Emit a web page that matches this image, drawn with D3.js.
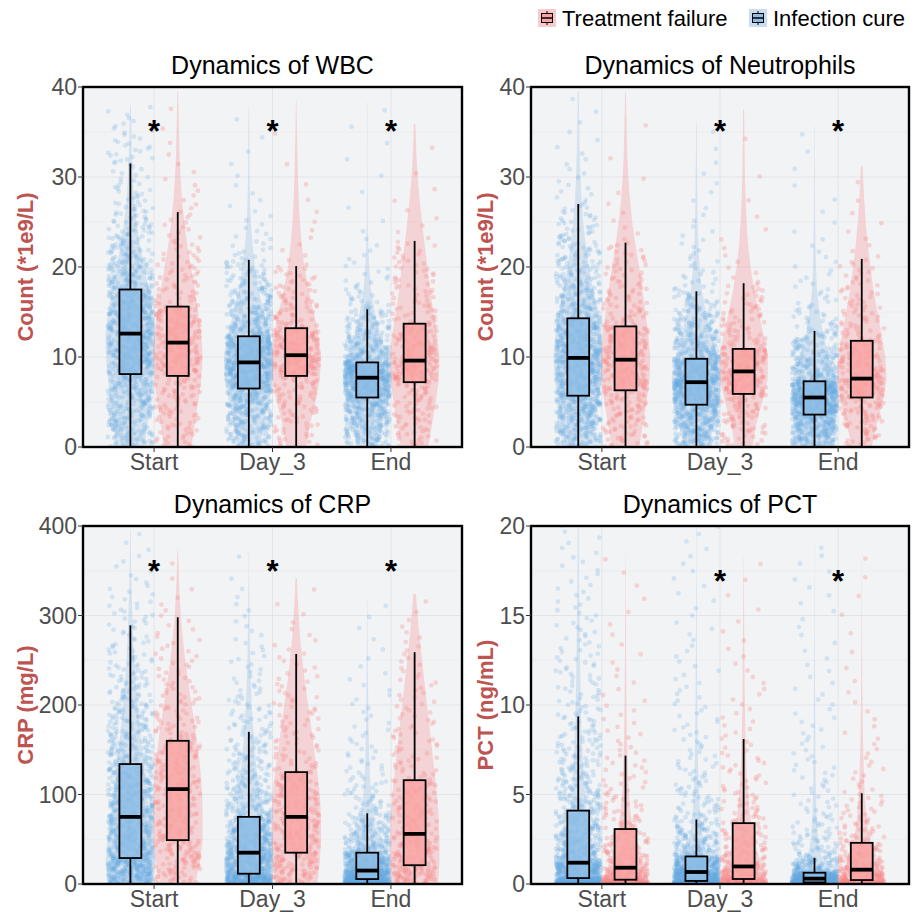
<!DOCTYPE html>
<html>
<head>
<meta charset="utf-8">
<script src="https://cdn.jsdelivr.net/npm/d3@7"></script>
<style>
  body { margin: 0; background: #fff; }
  text { font-family: "Liberation Sans", Arial, sans-serif; }
</style>
</head>
<body>
<script>
// categories
const groups = ["Start", "Day_3", "End"];
const legendLabels = ["Treatment failure", "Infection cure"];

// box stats per time point: [lower whisker, Q1, median, Q3, upper whisker]
// WBC
const wbcTicks = [0, 10, 20, 30, 40];
const wbcLevels = [0, 2.5, 5, 7.5, 10, 12.5, 15, 17.5, 20, 22.5, 25, 27.5, 30, 32.5, 35, 37.5, 40];
const wbcCureBox = [[0, 8.1, 12.6, 17.5, 31.5], [0, 6.5, 9.4, 12.3, 20.8], [0, 5.5, 7.7, 9.4, 15.3]];
const wbcFailBox = [[0, 7.9, 11.6, 15.6, 26.1], [0, 7.9, 10.2, 13.2, 20.1], [0, 7.2, 9.6, 13.7, 22.9]];
const wbcCureMax = [38.0, 37.6, 38.3];
const wbcFailMax = [39.5, 38.5, 35.9];
const wbcCureTail = [0.03, 0.03, 0.05];
const wbcFailTail = [0.04, 0.04, 0.03];
const wbcCureShape = [
  [0.55, 0.7, 0.8, 0.9, 0.98, 1.0, 0.9, 0.75, 0.55, 0.38, 0.25, 0.15, 0.1, 0.06, 0.04, 0.02, 0.01],
  [0.45, 0.6, 0.8, 0.97, 1.0, 0.85, 0.6, 0.4, 0.25, 0.15, 0.08, 0.05, 0.03, 0.025, 0.02, 0.01, 0],
  [0.4, 0.6, 0.85, 1.0, 0.85, 0.5, 0.3, 0.15, 0.08, 0.04, 0.02, 0.015, 0.01, 0.01, 0.01, 0.01, 0]
];
const wbcFailShape = [
  [0.55, 0.68, 0.82, 0.95, 1.0, 0.95, 0.82, 0.68, 0.53, 0.38, 0.26, 0.17, 0.11, 0.07, 0.05, 0.03, 0.01],
  [0.4, 0.55, 0.78, 0.95, 1.0, 0.9, 0.7, 0.5, 0.33, 0.22, 0.15, 0.1, 0.07, 0.05, 0.03, 0.015, 0],
  [0.55, 0.7, 0.85, 0.97, 1.0, 0.9, 0.75, 0.62, 0.52, 0.4, 0.3, 0.2, 0.12, 0.07, 0.04, 0.01, 0]
];
const wbcSig = ["*", "*", "*"];

// Neutrophils
const neutTicks = [0, 10, 20, 30, 40];
const neutLevels = [0, 2.5, 5, 7.5, 10, 12.5, 15, 17.5, 20, 22.5, 25, 27.5, 30, 32.5, 35, 37.5, 40];
const neutCureBox = [[0, 5.7, 9.9, 14.3, 27.0], [0, 4.7, 7.2, 9.8, 17.3], [0, 3.6, 5.5, 7.3, 12.9]];
const neutFailBox = [[0, 6.3, 9.7, 13.4, 22.7], [0, 5.9, 8.4, 10.9, 18.2], [0, 5.5, 7.6, 11.8, 20.9]];
const neutCureMax = [39.5, 36.1, 35.7];
const neutFailMax = [39.4, 37.5, 31.2];
const neutCureTail = [0.02, 0.04, 0.06];
const neutFailTail = [0.03, 0.04, 0.03];
const neutCureShape = [
  [0.5, 0.65, 0.8, 0.95, 1.0, 0.92, 0.78, 0.6, 0.43, 0.3, 0.2, 0.13, 0.09, 0.06, 0.04, 0.03, 0.02],
  [0.5, 0.72, 0.92, 1.0, 0.85, 0.6, 0.38, 0.22, 0.13, 0.08, 0.05, 0.035, 0.03, 0.02, 0.015, 0, 0],
  [0.55, 0.82, 1.0, 0.88, 0.6, 0.35, 0.2, 0.1, 0.06, 0.04, 0.025, 0.02, 0.015, 0.01, 0.01, 0, 0]
];
const neutFailShape = [
  [0.55, 0.7, 0.85, 0.97, 1.0, 0.92, 0.8, 0.68, 0.55, 0.4, 0.27, 0.18, 0.11, 0.07, 0.05, 0.03, 0.01],
  [0.35, 0.5, 0.75, 0.97, 0.98, 0.8, 0.6, 0.42, 0.28, 0.18, 0.12, 0.08, 0.05, 0.04, 0.03, 0.02, 0],
  [0.4, 0.6, 0.85, 1.0, 0.95, 0.8, 0.63, 0.47, 0.35, 0.24, 0.16, 0.1, 0.05, 0.02, 0, 0, 0]
];
const neutSig = ["", "*", "*"];

// CRP
const crpTicks = [0, 100, 200, 300, 400];
const crpLevels = [0, 25, 50, 75, 100, 125, 150, 175, 200, 225, 250, 275, 300, 325, 350, 375, 400];
const crpCureBox = [[0, 29, 75, 134, 289], [0, 11.5, 35, 75, 170], [0, 5.5, 15, 35, 79]];
const crpFailBox = [[0, 49, 106, 160, 298], [0, 35, 75, 125, 257], [0, 21, 56, 116, 259]];
const crpCureMax = [396, 372, 317];
const crpFailMax = [374, 342, 324];
const crpCureTail = [0.03, 0.07, 0.09];
const crpFailTail = [0.02, 0.03, 0.03];
const crpCureShape = [
  [0.9, 1.0, 0.92, 0.8, 0.68, 0.57, 0.47, 0.38, 0.3, 0.22, 0.16, 0.11, 0.08, 0.05, 0.03, 0.02, 0.01],
  [0.9, 1.0, 0.78, 0.58, 0.43, 0.32, 0.24, 0.17, 0.12, 0.08, 0.06, 0.04, 0.03, 0.02, 0.01, 0.005, 0],
  [1.0, 0.78, 0.42, 0.26, 0.16, 0.1, 0.07, 0.05, 0.04, 0.03, 0.02, 0.015, 0.01, 0.005, 0, 0, 0]
];
const crpFailShape = [
  [0.7, 0.9, 1.0, 1.0, 0.98, 0.92, 0.82, 0.7, 0.56, 0.42, 0.3, 0.2, 0.12, 0.07, 0.04, 0.01, 0],
  [0.85, 0.95, 1.0, 1.0, 0.95, 0.85, 0.72, 0.6, 0.48, 0.35, 0.25, 0.16, 0.1, 0.05, 0.02, 0, 0],
  [0.95, 1.0, 1.0, 0.97, 0.9, 0.8, 0.7, 0.6, 0.5, 0.4, 0.3, 0.2, 0.12, 0.05, 0, 0, 0]
];
const crpSig = ["*", "*", "*"];

// PCT
const pctTicks = [0, 5, 10, 15, 20];
const pctLevels = [0, 1, 2, 3, 4, 5, 6, 7, 8, 9, 10, 11, 12, 13, 14, 15, 16, 17, 18, 19, 20];
const pctCureBox = [[0, 0.33, 1.19, 4.1, 9.36], [0, 0.17, 0.67, 1.54, 3.6], [0, 0.09, 0.3, 0.63, 1.45]];
const pctFailBox = [[0, 0.24, 0.91, 3.07, 7.17], [0, 0.28, 0.98, 3.4, 8.1], [0, 0.22, 0.8, 2.3, 5.07]];
const pctCureMax = [22, 21, 19];
const pctFailMax = [18.5, 18.3, 18.7];
const pctCureTail = [0.09, 0.12, 0.14];
const pctFailTail = [0.09, 0.08, 0.1];
const pctCureShape = [
  [1.0, 0.85, 0.6, 0.45, 0.35, 0.28, 0.22, 0.18, 0.15, 0.12, 0.1, 0.09, 0.08, 0.07, 0.06, 0.05, 0.04, 0.035, 0.03, 0.025, 0.02],
  [1.0, 0.6, 0.35, 0.22, 0.15, 0.11, 0.08, 0.06, 0.05, 0.04, 0.035, 0.03, 0.025, 0.02, 0.02, 0.015, 0.015, 0.01, 0.01, 0.01, 0.01],
  [1.0, 0.4, 0.2, 0.12, 0.08, 0.06, 0.05, 0.04, 0.035, 0.03, 0.025, 0.02, 0.02, 0.015, 0.01, 0.01, 0.01, 0.005, 0.005, 0.005, 0]
];
const pctFailShape = [
  [1.0, 0.7, 0.45, 0.3, 0.2, 0.14, 0.1, 0.08, 0.06, 0.05, 0.04, 0.03, 0.03, 0.02, 0.02, 0.015, 0.01, 0.01, 0.005, 0, 0],
  [1.0, 0.75, 0.5, 0.35, 0.25, 0.18, 0.13, 0.1, 0.08, 0.06, 0.05, 0.04, 0.035, 0.03, 0.025, 0.02, 0.015, 0.01, 0.005, 0, 0],
  [1.0, 0.65, 0.4, 0.25, 0.17, 0.12, 0.09, 0.07, 0.05, 0.04, 0.03, 0.025, 0.02, 0.015, 0.01, 0.01, 0.005, 0.005, 0.003, 0, 0]
];
const pctSig = ["", "*", "*"];

// patients per arm and time point (jitter points)
const cureCounts = [1000, 950, 880];
const failCounts = [340, 320, 300];

const colors = {
  cure: { point: "#6AACE2", box: "#8EBDE5", violin: "#5FA2DB" },
  fail: { point: "#F98787", box: "#F9A3A2", violin: "#F98383" }
};

const panels = [
  { title: "Dynamics of WBC", yTitle: "Count (*1e9/L)", x: 83, y: 87, w: 379, h: 360, titleX: 33,
    ticks: wbcTicks, levels: wbcLevels, sig: wbcSig, sigY: 35.9,
    cure: { box: wbcCureBox, max: wbcCureMax, tail: wbcCureTail, shape: wbcCureShape },
    fail: { box: wbcFailBox, max: wbcFailMax, tail: wbcFailTail, shape: wbcFailShape } },
  { title: "Dynamics of Neutrophils", yTitle: "Count (*1e9/L)", x: 531, y: 87, w: 378, h: 360, titleX: 493,
    ticks: neutTicks, levels: neutLevels, sig: neutSig, sigY: 35.9,
    cure: { box: neutCureBox, max: neutCureMax, tail: neutCureTail, shape: neutCureShape },
    fail: { box: neutFailBox, max: neutFailMax, tail: neutFailTail, shape: neutFailShape } },
  { title: "Dynamics of CRP", yTitle: "CRP (mg/L)", x: 83, y: 526, w: 379, h: 358, titleX: 33,
    ticks: crpTicks, levels: crpLevels, sig: crpSig, sigY: 358,
    cure: { box: crpCureBox, max: crpCureMax, tail: crpCureTail, shape: crpCureShape },
    fail: { box: crpFailBox, max: crpFailMax, tail: crpFailTail, shape: crpFailShape } },
  { title: "Dynamics of PCT", yTitle: "PCT (ng/mL)", x: 531, y: 526, w: 378, h: 358, titleX: 493,
    ticks: pctTicks, levels: pctLevels, sig: pctSig, sigY: 17.3,
    cure: { box: pctCureBox, max: pctCureMax, tail: pctCureTail, shape: pctCureShape },
    fail: { box: pctFailBox, max: pctFailMax, tail: pctFailTail, shape: pctFailShape } }
];

const svg = d3.select("body").append("svg")
  .attr("width", 917)
  .attr("height", 912);

// y positions of the jitter points, spread between the read quartiles
// following the violin outline inside each segment
function pointValues(box, maxV, tail, levels, shape, n) {
  const dens = d3.scaleLinear().domain(levels).range(shape).clamp(true);
  const steps = 600;
  const ys = d3.range(steps + 1).map(i => box[0] + (maxV - box[0]) * i / steps);
  const cum = [0];
  for (let i = 1; i <= steps; i++) {
    cum.push(cum[i - 1] + (Math.max(dens(ys[i - 1]), 0.015) + Math.max(dens(ys[i]), 0.015)) / 2);
  }
  const cdf = d3.scaleLinear().domain(ys).range(cum);
  const inv = d3.scaleLinear().domain(cum).range(ys);
  const ps = [0, 0.25, 0.5, 0.75, 1 - tail, 1];
  const cs = [box[0], box[1], box[2], box[3], box[4], maxV].map(v => cdf(v));
  return d3.range(n).map(i => {
    const p = (i + 0.5) / n;
    const k = Math.min(d3.bisectRight(ps, p) - 1, 4);
    const t = (p - ps[k]) / (ps[k + 1] - ps[k]);
    return inv(cs[k] + t * (cs[k + 1] - cs[k]));
  });
}

// horizontal jitter offset in [-0.5, 0.5), fixed per point index
const jitter = i => {
  const s = Math.sin((i + 1) * 12.9898) * 43758.5453;
  return s - Math.floor(s) - 0.5;
};

panels.forEach((p, pi) => {
  const g = svg.append("g").attr("transform", `translate(${p.x},${p.y})`);
  const y = d3.scaleLinear().domain([0, p.ticks[p.ticks.length - 1]]).range([p.h, 0]);
  const x = d3.scalePoint().domain(groups).range([0, p.w]).padding(0.6);
  const step = x.step();
  const arms = [
    { key: "cure", dx: -0.2 * step, n: cureCounts },
    { key: "fail", dx: 0.2 * step, n: failCounts }
  ];

  g.append("clipPath").attr("id", "clip" + pi)
    .append("rect").attr("width", p.w).attr("height", p.h);

  g.append("rect").attr("width", p.w).attr("height", p.h).attr("fill", "#F2F3F5");

  // grid
  const minor = d3.pairs(p.ticks).map(([a, b]) => (a + b) / 2);
  g.append("g").selectAll("line").data(minor).join("line")
    .attr("x1", 0).attr("x2", p.w)
    .attr("y1", d => y(d)).attr("y2", d => y(d))
    .attr("stroke", "#E9EBEE").attr("stroke-width", 0.7);
  g.append("g").selectAll("line").data(p.ticks).join("line")
    .attr("x1", 0).attr("x2", p.w)
    .attr("y1", d => y(d)).attr("y2", d => y(d))
    .attr("stroke", "#E2E4E8").attr("stroke-width", 1);
  g.append("g").selectAll("line").data(groups).join("line")
    .attr("x1", d => x(d)).attr("x2", d => x(d))
    .attr("y1", 0).attr("y2", p.h)
    .attr("stroke", "#E2E4E8").attr("stroke-width", 1);

  const body = g.append("g").attr("clip-path", `url(#clip${pi})`);
  const hw = 0.21 * step;

  // violins
  arms.forEach(a => {
    const s = p[a.key];
    groups.forEach((grp, gi) => {
      const dens = d3.scaleLinear().domain(p.levels).range(s.shape[gi]).clamp(true);
      const lo = s.box[gi][0], hi = s.max[gi];
      const vals = d3.range(121).map(i => lo + (hi - lo) * i / 120);
      const cx = x(grp) + a.dx;
      const area = d3.area()
        .y(v => y(v))
        .x0(v => cx - hw * dens(v))
        .x1(v => cx + hw * dens(v))
        .curve(d3.curveBasis);
      body.append("path").datum(vals)
        .attr("d", area)
        .attr("fill", colors[a.key].violin)
        .attr("fill-opacity", a.key === "cure" ? 0.2 : 0.28);
    });
  });

  // jitter points
  arms.forEach((a, ai) => {
    const s = p[a.key];
    groups.forEach((grp, gi) => {
      const vals = pointValues(s.box[gi], s.max[gi], s.tail[gi], p.levels, s.shape[gi], a.n[gi]);
      const cx = x(grp) + a.dx;
      const off = (pi * 7 + ai * 3 + gi) * 5000;
      body.append("g").selectAll("circle").data(vals).join("circle")
        .attr("cx", (v, i) => cx + jitter(i + off) * 0.38 * step)
        .attr("cy", v => y(v))
        .attr("r", 2.4)
        .attr("fill", colors[a.key].point)
        .attr("fill-opacity", a.key === "cure" ? 0.24 : 0.3);
    });
  });

  // boxplots
  const bw = 0.185 * step;
  arms.forEach(a => {
    const s = p[a.key];
    groups.forEach((grp, gi) => {
      const [lo, q1, med, q3, hi] = s.box[gi];
      const cx = x(grp) + a.dx;
      const bg = body.append("g");
      bg.append("line").attr("x1", cx).attr("x2", cx).attr("y1", y(hi)).attr("y2", y(q3))
        .attr("stroke", "#000").attr("stroke-width", 1.8);
      bg.append("line").attr("x1", cx).attr("x2", cx).attr("y1", y(q1)).attr("y2", y(lo))
        .attr("stroke", "#000").attr("stroke-width", 1.8);
      bg.append("rect")
        .attr("x", cx - bw / 2).attr("width", bw)
        .attr("y", y(q3)).attr("height", y(q1) - y(q3))
        .attr("fill", colors[a.key].box).attr("fill-opacity", 0.82)
        .attr("stroke", "#000").attr("stroke-width", 1.8);
      bg.append("line").attr("x1", cx - bw / 2).attr("x2", cx + bw / 2)
        .attr("y1", y(med)).attr("y2", y(med))
        .attr("stroke", "#000").attr("stroke-width", 3.8);
    });
  });

  // significance marks
  g.append("g").selectAll("text").data(groups).join("text")
    .attr("x", d => x(d))
    .attr("y", y(p.sigY) + 18)
    .attr("text-anchor", "middle")
    .attr("font-size", 31)
    .attr("font-weight", "bold")
    .attr("fill", "#000")
    .text((d, i) => p.sig[i]);

  // frame
  g.append("rect").attr("width", p.w).attr("height", p.h)
    .attr("fill", "none").attr("stroke", "#000").attr("stroke-width", 2.4);

  // y axis
  g.append("g").selectAll("line").data(p.ticks).join("line")
    .attr("x1", -5).attr("x2", 0)
    .attr("y1", d => y(d)).attr("y2", d => y(d))
    .attr("stroke", "#333").attr("stroke-width", 1);
  g.append("g").selectAll("text").data(p.ticks).join("text")
    .attr("x", -6).attr("y", d => y(d)).attr("dy", "0.36em")
    .attr("text-anchor", "end").attr("font-size", 23).attr("fill", "#4D4D4D")
    .text(d => d);

  // x axis
  g.append("g").selectAll("line").data(groups).join("line")
    .attr("x1", d => x(d)).attr("x2", d => x(d))
    .attr("y1", p.h).attr("y2", p.h + 5)
    .attr("stroke", "#333").attr("stroke-width", 1);
  g.append("g").selectAll("text").data(groups).join("text")
    .attr("x", d => x(d)).attr("y", p.h + 23)
    .attr("text-anchor", "middle").attr("font-size", 23).attr("fill", "#4D4D4D")
    .text(d => d);

  // titles
  g.append("text").attr("x", p.w / 2).attr("y", -13)
    .attr("text-anchor", "middle").attr("font-size", 25).attr("fill", "#000")
    .text(p.title);
  svg.append("text")
    .attr("transform", `translate(${p.titleX},${p.y + p.h / 2}) rotate(-90)`)
    .attr("text-anchor", "middle").attr("font-size", 22).attr("font-weight", "bold")
    .attr("fill", "#BE5451")
    .text(p.yTitle);
});

// legend
const legendItems = [
  { label: legendLabels[0], key: "fail", kx: 538, tx: 562, bg: "#F7CBCB" },
  { label: legendLabels[1], key: "cure", kx: 749, tx: 773, bg: "#C9DDEF" }
];
legendItems.forEach(d => {
  const lg = svg.append("g");
  lg.append("rect").attr("x", d.kx).attr("y", 9).attr("width", 18).attr("height", 18).attr("fill", d.bg);
  lg.append("line").attr("x1", d.kx + 9).attr("x2", d.kx + 9).attr("y1", 11).attr("y2", 25)
    .attr("stroke", "#000").attr("stroke-width", 1);
  lg.append("rect").attr("x", d.kx + 3.5).attr("y", 13.5).attr("width", 11).attr("height", 9)
    .attr("fill", colors[d.key].box).attr("stroke", "#000").attr("stroke-width", 1);
  lg.append("line").attr("x1", d.kx + 3.5).attr("x2", d.kx + 14.5).attr("y1", 18).attr("y2", 18)
    .attr("stroke", "#000").attr("stroke-width", 1.5);
  lg.append("text").attr("x", d.tx).attr("y", 26)
    .attr("font-size", 22).attr("fill", "#000").text(d.label);
});
</script>
</body>
</html>
